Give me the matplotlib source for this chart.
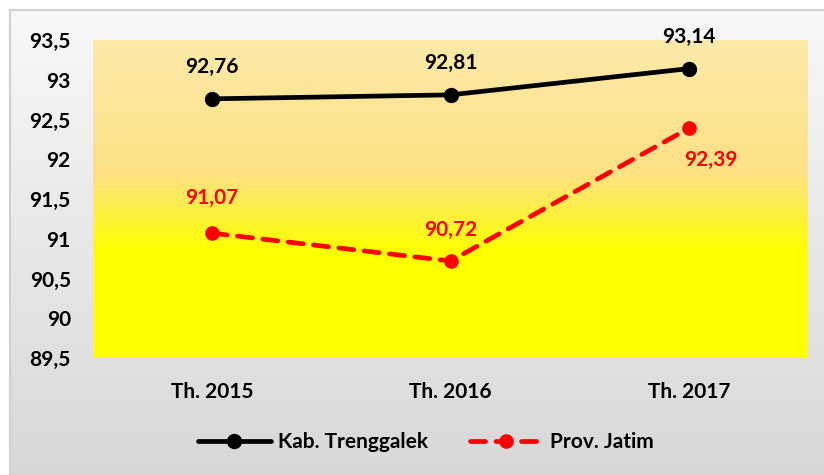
import matplotlib
matplotlib.use("Agg")
import matplotlib.pyplot as plt
import numpy as np
from matplotlib.colors import LinearSegmentedColormap
from matplotlib.lines import Line2D

categories = ["Th. 2015", "Th. 2016", "Th. 2017"]
kab_trenggalek = [92.76, 92.81, 93.14]
prov_jatim = [91.07, 90.72, 92.39]
series_names = ["Kab. Trenggalek", "Prov. Jatim"]
y_ticks = [89.5, 90, 90.5, 91, 91.5, 92, 92.5, 93, 93.5]

plt.rcParams['font.family'] = ['Lato', 'DejaVu Sans']
plt.rcParams['font.weight'] = 'bold'

FS = 15
W, H = 824, 475
fig = plt.figure(figsize=(W / 100, H / 100), dpi=100)
fig.patch.set_facecolor("white")

# outer chart-area background (grey gradient)
bg = fig.add_axes([10 / W, 0, 1 - 10 / W, (H - 10) / H], zorder=-10)
bg_cmap = LinearSegmentedColormap.from_list("bg", ["#F8F8F8", "#D8D8D8"])
bg.imshow(np.linspace(0, 1, 256).reshape(-1, 1), cmap=bg_cmap, aspect="auto",
          extent=[0, 1, 0, 1], origin="upper")
bg.set_xlim(0, 1); bg.set_ylim(0, 1)
bg.set_axis_off()
fig.add_artist(Line2D([10 / W, 10 / W], [0, (H - 10) / H], color="#D0D0D0", lw=1.5))
fig.add_artist(Line2D([10 / W, 1], [(H - 10) / H, (H - 10) / H], color="#D0D0D0", lw=1.5))

# plot area
left, right, top, bottom = 93, 808, 40, 358
ax = fig.add_axes([left / W, (H - bottom) / H, (right - left) / W, (bottom - top) / H])
pa_cmap = LinearSegmentedColormap.from_list(
    "pa", [(0.0, "#FEEAAA"), (0.42, "#FDE184"), (0.66, "#FFFF00"), (1.0, "#FFFF00")])
ax.imshow(np.linspace(0, 1, 256).reshape(-1, 1), cmap=pa_cmap, aspect="auto",
          extent=[0, 1, 0, 1], origin="upper", transform=ax.transAxes, zorder=0)

x = np.arange(len(categories))
ax.plot(x, kab_trenggalek, color="black", lw=3.4, marker="o", markersize=10,
        label=series_names[0], zorder=3, solid_capstyle="round")
ax.plot(x, prov_jatim, color="#FF0000", lw=3.4, marker="o", markersize=9.5,
        linestyle=(0, (3.2, 2.2)), dash_capstyle="round",
        label=series_names[1], zorder=3)

ax.set_xlim(-0.5, len(categories) - 0.5)
ax.set_ylim(89.5, 93.5)
ax.set_yticks(y_ticks)
ax.set_yticklabels([f"{v:g}".replace(".", ",") for v in y_ticks])
ax.set_xticks(x)
ax.set_xticklabels(categories)
ax.tick_params(axis="both", length=0, labelsize=FS)
ax.tick_params(axis="y", pad=16)
ax.tick_params(axis="x", pad=17)
for s in ax.spines.values():
    s.set_visible(False)

fmt = lambda v: f"{v:.2f}".replace(".", ",")
for xi, v in zip(x, kab_trenggalek):
    ax.annotate(fmt(v), (xi, v), xytext=(0, 23), textcoords="offset points",
                ha="center", va="center", fontsize=FS, fontweight="bold", color="black")
red_offsets = [(0, 25), (0, 22), (16, -23)]
for xi, v, off in zip(x, prov_jatim, red_offsets):
    ax.annotate(fmt(v), (xi, v), xytext=off, textcoords="offset points",
                ha="center", va="center", fontsize=FS, fontweight="bold", color="#FF0000")

leg = fig.legend(loc="center", bbox_to_anchor=(426 / W, (H - 442) / H), ncol=2,
                 frameon=False, fontsize=FS, handlelength=3.5, columnspacing=2.0,
                 handletextpad=0.35)
for t in leg.get_texts():
    t.set_fontweight("bold")

fig.savefig("out.png", dpi=100)
